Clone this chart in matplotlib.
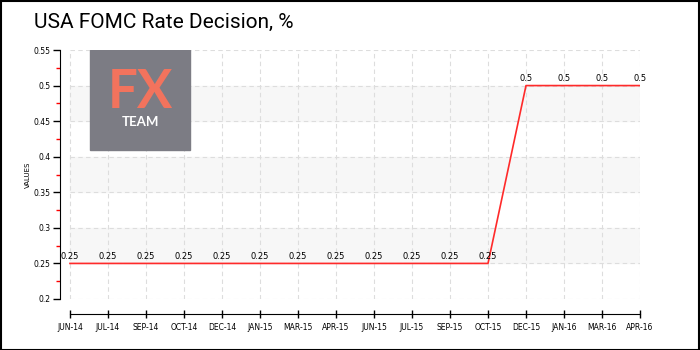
import matplotlib
matplotlib.use("Agg")
import matplotlib.pyplot as plt
from matplotlib.patches import Rectangle
from matplotlib.ticker import MultipleLocator

months = ["JUN-14", "JUL-14", "SEP-14", "OCT-14", "DEC-14", "JAN-15", "MAR-15", "APR-15",
          "JUN-15", "JUL-15", "SEP-15", "OCT-15", "DEC-15", "JAN-16", "MAR-16", "APR-16"]
rates = [0.25, 0.25, 0.25, 0.25, 0.25, 0.25, 0.25, 0.25,
         0.25, 0.25, 0.25, 0.25, 0.5, 0.5, 0.5, 0.5]
rate_labels = ["0.25"] * 12 + ["0.5"] * 4
y_ticks = [0.2, 0.25, 0.3, 0.35, 0.4, 0.45, 0.5, 0.55]

font = "DejaVu Sans"

fig = plt.figure(figsize=(7, 3.5), dpi=100)
fig.patches.append(Rectangle((0.001, 0.001), 0.997, 0.996, transform=fig.transFigure,
                             fill=False, edgecolor="black", linewidth=1.5))

ax = fig.add_axes([60 / 700, 1 - 299 / 350, 580 / 700, 249 / 350])
x = list(range(len(months)))

# spines first: moving a spine resets the tick setup
ax.spines["top"].set_visible(False)
ax.spines["right"].set_visible(False)
ax.spines["bottom"].set_position(("outward", 11))

ax.set_xlim(-10 / 38, len(months) - 1)
ax.set_ylim(0.2, 0.55)
ax.spines["left"].set_bounds(0.2, 0.55)
ax.spines["bottom"].set_bounds(0, len(months) - 1)

# alternating bands
for lo in (0.25, 0.35, 0.45):
    ax.axhspan(lo, lo + 0.05, xmin=10 / 580, color="#f7f7f7", zorder=0)

ax.set_yticks(y_ticks)
ax.yaxis.set_minor_locator(MultipleLocator(0.025))
ax.set_yticklabels([f"{v:g}" for v in y_ticks], fontsize=5.5, family=font)
ax.set_xticks(x)
ax.set_xticklabels(months, fontsize=5.5, family=font)

for xi in x:
    ax.axvline(xi, color="#dddddd", linestyle=(0, (4, 3)), linewidth=0.8, zorder=1)
for yv in y_ticks:
    ax.plot([0, len(months) - 1], [yv, yv], color="#dddddd", linestyle=(0, (4, 3)),
            linewidth=0.8, zorder=1)

ax.tick_params(axis="y", which="major", length=5, width=1, pad=2)
ax.tick_params(axis="y", which="minor", length=3, width=1, color="red")
ax.tick_params(axis="x", direction="inout", length=6, width=1, pad=3)

ax.plot(x, rates, color="#ff2a2a", linewidth=1.2, zorder=3)
for xi, v, lab in zip(x, rates, rate_labels):
    ax.text(xi, v + 0.004, lab, ha="center", va="bottom", fontsize=6, family=font, zorder=4)

ax.set_ylabel("VALUES", fontsize=5, family=font)
ax.yaxis.set_label_coords(-29 / 580, 0.5)

# logo block
ax.add_patch(Rectangle((90, 200), 100, 100, transform=None, color="#7c7c84", zorder=5))
fig.text(140 / 700, 1 - 92 / 350, "FX", color="#f2735d", fontsize=38, family="Lato",
         weight="bold", ha="center", va="center", zorder=6)
fig.text(140 / 700, 1 - 122 / 350, "TEAM", color="white", fontsize=9.5, family="Lato",
         weight="bold", ha="center", va="center", zorder=6)

fig.text(34 / 700, 1 - 22 / 350, "USA FOMC Rate Decision, %", fontsize=15, family="Roboto",
         ha="left", va="center")

fig.savefig("out.png", dpi=100)
